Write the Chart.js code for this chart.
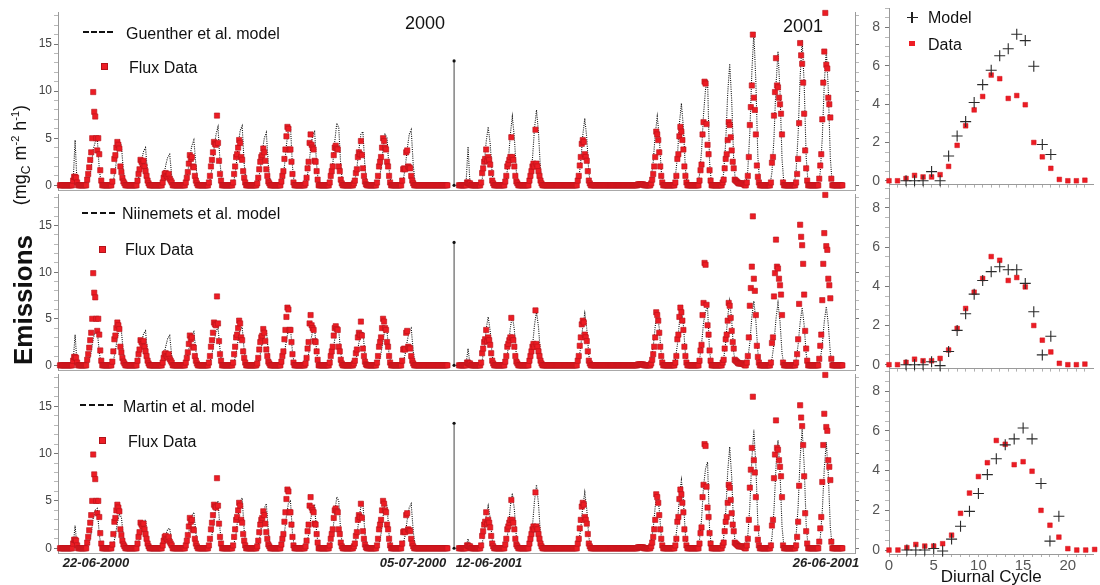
<!DOCTYPE html>
<html><head><meta charset="utf-8">
<script src="https://cdn.jsdelivr.net/npm/chart.js"></script>
<style>
html,body{margin:0;padding:0;background:#fff;}
body{position:relative;width:1100px;height:585px;overflow:hidden;font-family:"Liberation Sans",Arial,sans-serif;color:#111;}
.w{position:absolute;}
.w canvas{display:block;}
.t{position:absolute;white-space:nowrap;line-height:1;}
.dash{position:absolute;height:0;border-top:2.5px dashed #111;}
.mk{position:absolute;width:7px;height:7px;background:#ee1d25;box-shadow:inset 0 0 0 1px #b3131a;}
.rot{position:absolute;white-space:nowrap;line-height:1;transform:translate(-50%,-50%) rotate(-90deg);}
</style></head>
<body>
<div class="w" style="left:0;top:0;width:870px;height:202px"><canvas id="ts1"></canvas></div>
<div class="w" style="left:0;top:182px;width:870px;height:200px"><canvas id="ts2"></canvas></div>
<div class="w" style="left:0;top:362px;width:870px;height:213px"><canvas id="ts3"></canvas></div>
<div class="w" style="left:860px;top:-5px;width:240px;height:203px"><canvas id="di1"></canvas></div>
<div class="w" style="left:860px;top:175px;width:240px;height:207px"><canvas id="di2"></canvas></div>
<div class="w" style="left:860px;top:358px;width:240px;height:230px"><canvas id="di3"></canvas></div>

<div class="rot" style="left:23px;top:300px;font-size:26px;font-weight:bold">Emissions</div>
<div class="rot" style="left:21px;top:155px;font-size:18px">(mg<sub style="font-size:12px">C</sub> m<sup style="font-size:11px">-2</sup> h<sup style="font-size:11px">-1</sup>)</div>

<div class="t" style="left:405px;top:14px;font-size:18px">2000</div>
<div class="t" style="left:783px;top:17px;font-size:18px">2001</div>

<div class="dash" style="left:83px;top:31px;width:30px"></div>
<div class="t" style="left:126px;top:26px;font-size:16px">Guenther et al. model</div>
<div class="mk" style="left:101px;top:63px"></div>
<div class="t" style="left:129px;top:60px;font-size:16px">Flux Data</div>

<div class="dash" style="left:82px;top:212px;width:33px"></div>
<div class="t" style="left:122px;top:206px;font-size:16px">Niinemets et al. model</div>
<div class="mk" style="left:99px;top:246px"></div>
<div class="t" style="left:125px;top:242px;font-size:16px">Flux Data</div>

<div class="dash" style="left:80px;top:404px;width:33px"></div>
<div class="t" style="left:123px;top:399px;font-size:16px">Martin et al. model</div>
<div class="mk" style="left:99px;top:437px"></div>
<div class="t" style="left:128px;top:434px;font-size:16px">Flux Data</div>

<div style="position:absolute;left:906.5px;top:16.5px;width:11px;height:1.2px;background:#222"></div>
<div style="position:absolute;left:911.4px;top:11.5px;width:1.2px;height:11px;background:#222"></div>
<div class="t" style="left:928px;top:10px;font-size:16px">Model</div>
<div style="position:absolute;left:909px;top:40.5px;width:6px;height:5px;background:#ee1d25"></div>
<div class="t" style="left:928px;top:37px;font-size:16px">Data</div>

<script>
// ---------- data ----------
const DAY_HOURS = [0,1,2,3,4,5,6,7,8,9,10,11,12,13,14,15,16,17,18,19,20,21,22,23];
const MODEL_HOURS = [5,7,9,11,13,15,17,19];

// Flux data (shared by the three rows), hourly values per day
const FLUX_2000 = [
  [null,null,0,0,0,0,0,0,0,0,0,0,0,0,0,0.5,0.9,0.9,0.8,0.3,0,0,0,0],
  [0,0,0,0,0,0.6,1.2,1.9,2.7,3.5,5.0,9.9,7.8,7.3,5.0,3.7,5.0,3.3,1.6,0.5,0,0,0,0],
  [0,0,0,0,0,0,0.4,1.5,2.8,3.2,4.0,4.6,4.3,3.9,2.0,1.4,0.8,0.4,0.2,0,0,0,0,0],
  [0,0,0,0,0,0,0,0.5,1.2,1.7,2.7,2.5,2.3,2.6,2.0,1.5,1.0,0.5,0.2,0,0,0,0,0],
  [0,0,0,0,0,0,0,0,0.3,0.8,1.2,1.3,1.0,0.9,1.2,0.7,0.5,0.3,0,0,0,0,0,0],
  [0,0,0,0,0,0,0,0.3,0.8,1.4,2.3,3.2,2.8,3.0,2.0,1.9,1.0,0.5,0.2,0,0,0,0,0],
  [0,0,0,0,0,0,0.3,1.0,2.0,2.7,3.5,4.6,4.4,4.3,7.4,4.5,2.6,1.2,0.5,0,0,0,0,0],
  [0,0,0,0,0,0,0.3,1.2,2.0,3.0,3.3,4.0,4.8,4.5,3.0,2.7,1.5,0.8,0.3,0,0,0,0,0],
  [0,0,0,0,0,0,0.2,0.8,1.7,2.5,3.0,3.2,3.9,3.5,2.6,1.7,1.0,0.4,0.2,0,0,0,0,0],
  [0,0,0,0,0,0,0.4,1.0,1.5,2.8,3.8,5.2,6.2,6.0,3.8,3.8,2.5,1.2,0.3,0,0,0,0,0],
  [0,0,0,0,0,0,0.2,0.8,1.8,2.5,4.5,5.4,4.3,4.0,3.8,2.6,2.5,1.5,0.6,0,0,0,0,0],
  [0,0,0,0,0,0,0.3,1.0,1.5,2.0,3.2,4.0,4.2,3.9,3.8,2.0,1.5,0.6,0.2,0,0,0,0,0],
  [0,0,0,0,0,0,0.2,0.5,1.3,1.7,3.0,3.5,3.3,4.7,3.2,1.8,1.0,0.4,0.1,0,0,0,0,0],
  [0,0,0,0,0,0.3,1.0,2.0,2.5,3.0,4.0,5.0,4.7,4.0,3.8,2.5,2.0,1.0,0.3,0,0,0,0,0],
  [0,0,0,0,0,0,0.5,1.7,1.8,1.7,3.5,3.7,2.0,1.9,1.8,1.0,0.5,0.2,0,0,0,0,0,0],
  [0,0,0,0,0,0,0,0,0,0,0,0,0,0,0,0,0,0,0,0,0,0,0,0],
  [0,0,0,0]
];
const FLUX_2001 = [
  [null,null,null,null,null,null,null,null,0,0,0,0,0,0,0,0,0.3,0.3,0.2,0.2,0,0,0,0],
  [0,0,0,0,0,0,0.3,1.3,1.8,2.5,2.8,3.8,2.6,3.0,2.7,2.2,1.3,0.5,0.2,0,0,0,0,0],
  [0,0,0,0,0,0,0.4,1.0,2.0,2.3,2.7,3.0,5.1,3.0,2.7,2.0,1.0,0.4,0.2,0,0,0,0,0],
  [0,0,0,0,0,0,0.5,1.0,1.5,2.0,2.3,2.0,5.9,2.3,2.0,1.5,1.0,0.5,0.2,0,0,0,0,0],
  [0,0,0,0,0,0,0,0,0,0,0,0,0,0,0,0,0,0,0,0,0,0,0,0],
  [0,0,0,0,0,0,0.5,1.0,2.1,3.0,4.4,4.8,4.6,3.3,3.0,2.6,1.5,0.5,0.2,0,0,0,0,0],
  [0,0,0,0,0,0,0,0,0,0,0,0,0,0,0,0,0,0,0,0,0,0,0,0],
  [0,0,0,0,0,0,0,0,0,0,0,0,0,0,0,0,0,0,0.1,0.1,0.1,0.1,0.1,0.1],
  [0,0,0,0,0,0,0,0.2,0.6,1.2,2.0,3.0,5.7,5.4,4.8,3.5,2.0,1.0,0.3,0,0,0,0,0],
  [0,0,0,0,0,0,0,0.3,1.0,2.8,3.3,5.2,6.2,5.7,4.8,3.8,2.0,1.0,0.3,0,0,0,0,0],
  [0,0,0,0,0,0,0,0.5,1.6,2.2,5.4,6.7,11.0,10.8,6.5,4.3,3.3,1.6,0.5,0,0,0,0,0],
  [0,0,0,0,0,0,0.3,0.6,1.8,2.8,3.3,4.8,6.7,6.4,5.1,3.7,2.5,1.8,0.6,0.5,0.4,0.3,0.2,0.2],
  [0.2,0.2,0.2,0.1,0,0,0.3,1.0,3.0,6.4,8.3,10.6,16.0,9.3,8.0,5.4,2.1,0.9,0.3,0,0,0,0,0],
  [0,0,0,0,0,0,0.3,2.4,3.0,7.4,9.9,13.5,10.6,10.4,9.3,8.6,7.6,5.4,0.3,0,0,0,0,0],
  [0,0,0,0,0,0,0,0.3,1.2,2.8,6.6,15.1,13.8,12.9,10.9,7.6,3.7,1.8,0.5,0,0,0,0,0],
  [0,0,0,0,0,0,0.7,2.1,3.3,7.0,10.9,14.2,18.3,12.8,12.4,9.3,8.6,7.2,0.7,0,0,0,0,0],
  [0,0,0,0,0,0]
];

// Models, values at MODEL_HOURS for each day
const GUENTHER_2000 = [
  [0,0,0,0,0,0.3,4.8,0],[0,0.6,1.9,3.8,4.6,5.0,1.8,0],[0,0.5,1.7,3.5,4.7,4.2,1.5,0],
  [0,0.3,1.2,2.6,3.6,4.0,1.2,0],[0,0.2,0.9,2.1,3.0,3.3,1.0,0],[0,0.3,1.4,3.0,4.2,4.8,2.2,0],
  [0,0.5,1.8,3.8,5.4,6.2,2.5,0],[0,0.6,2.0,4.2,5.8,6.3,2.3,0],[0,0.5,1.7,3.6,5.0,5.6,2.2,0],
  [0,0.6,2.0,4.3,6.0,6.3,2.0,0],[0,0.5,1.8,3.8,5.3,5.7,2.2,0],[0,0.6,2.2,4.6,6.6,6.1,2.0,0],
  [0,0.5,1.8,3.8,5.4,5.7,1.9,0],[0,0.5,1.8,3.8,5.4,5.0,1.7,0],[0,0.5,1.8,3.8,5.4,5.9,2.2,0],
  [0,0,0,0,0,0,0,0]
];
const GUENTHER_2001 = [
  [0,0,0,0,0,0.2,4.1,0],[0,0.6,2.2,4.6,6.2,4.4,1.2,0],[0,0.7,2.5,5.4,7.3,5.1,1.4,0],
  [0,0.8,2.8,6.0,8.0,5.6,1.6,0],[0,0,0,0,0,0,0,0],[0,0.7,2.5,5.3,7.1,5.0,1.4,0],
  [0,0,0,0,0,0,0,0],[0,0,0,0,0,0,0,0],[0,0.7,2.5,5.4,7.3,5.2,1.5,0],
  [0,0.9,3.0,6.5,8.7,6.1,1.7,0],[0,1.1,3.6,7.5,10.2,11.2,2.5,0],[0,1.3,4.5,9.7,12.9,9.0,2.6,0],
  [0,1.6,5.6,12.0,16.2,11.0,3.0,0],[0,1.4,5.0,10.6,14.2,9.9,2.8,0],[0,1.5,5.4,11.5,15.4,10.8,3.0,0],
  [0,1.4,5.0,10.8,14.4,10.1,2.9,0]
];
const NIINEMETS_2000 = [
  [0,0,0,0,0,0.3,3.3,0],[0,0.5,1.5,2.9,3.6,3.8,1.4,0],[0,0.5,1.5,3.0,4.0,3.7,1.3,0],
  [0,0.3,1.1,2.4,3.4,3.7,1.2,0],[0,0.2,0.9,2.0,2.9,3.2,1.0,0],[0,0.3,1.1,2.3,3.2,3.6,1.6,0],
  [0,0.3,1.2,2.5,3.6,4.1,1.7,0],[0,0.4,1.3,2.7,3.8,4.1,1.6,0],[0,0.3,1.2,2.5,3.5,3.8,1.5,0],
  [0,0.4,1.3,2.7,3.8,4.0,1.4,0],[0,0.3,1.2,2.6,3.6,3.9,1.5,0],[0,0.4,1.3,2.8,4.0,3.7,1.3,0],
  [0,0.3,1.1,2.4,3.4,3.6,1.2,0],[0,0.4,1.3,2.7,3.9,3.6,1.2,0],[0,0.3,1.2,2.6,3.7,4.0,1.5,0],
  [0,0,0,0,0,0,0,0]
];
const NIINEMETS_2001 = [
  [0,0,0,0,0,0.1,1.8,0],[0,0.5,1.8,3.9,5.2,3.7,1.0,0],[0,0.5,1.9,4.0,5.4,3.8,1.1,0],
  [0,0.6,2.0,4.3,5.8,4.1,1.2,0],[0,0,0,0,0,0,0,0],[0,0.6,2.0,4.2,5.6,3.9,1.1,0],
  [0,0,0,0,0,0,0,0],[0,0,0,0,0,0,0,0],[0,0.6,2.0,4.2,5.6,4.0,1.1,0],
  [0,0.6,2.2,4.6,6.2,4.3,1.2,0],[0,0.6,2.2,4.6,5.8,6.2,1.5,0],[0,0.7,2.4,5.2,6.9,4.8,1.4,0],
  [0,0.7,2.4,5.2,6.9,4.8,1.4,0],[0,0.7,2.3,5.0,6.7,4.7,1.3,0],[0,0.6,2.2,4.6,6.2,4.3,1.2,0],
  [0,0.6,2.2,4.7,6.3,4.4,1.3,0]
];
const MARTIN_2000 = [
  [0,0,0,0,0,0.2,2.4,0],[0,0.5,1.6,3.2,4.0,4.2,1.5,0],[0,0.4,1.3,2.7,3.6,3.3,1.1,0],
  [0,0.3,1.0,2.0,2.8,3.0,0.9,0],[0,0.2,0.6,1.4,2.0,2.1,0.7,0],[0,0.3,1.1,2.4,3.4,3.8,1.6,0],
  [0,0.4,1.4,3.0,4.4,5.0,2.0,0],[0,0.5,1.6,3.5,4.9,5.3,1.9,0],[0,0.4,1.4,3.0,4.2,4.7,1.8,0],
  [0,0.5,1.6,3.4,4.8,5.0,1.6,0],[0,0.4,1.4,3.0,4.2,4.5,1.7,0],[0,0.5,1.7,3.7,5.4,5.0,1.6,0],
  [0,0.4,1.4,3.0,4.4,4.7,1.5,0],[0,0.5,1.5,3.3,4.9,4.5,1.4,0],[0,0.4,1.4,3.0,4.3,4.7,1.8,0],
  [0,0,0,0,0,0,0,0]
];
const MARTIN_2001 = [
  [0,0,0,0,0,0.1,1.0,0],[0,0.5,1.6,3.4,4.5,3.2,0.9,0],[0,0.6,2.0,4.4,5.8,4.1,1.2,0],
  [0,0.7,2.3,5.0,6.7,4.7,1.3,0],[0,0,0,0,0,0,0,0],[0,0.6,2.1,4.4,5.9,4.1,1.2,0],
  [0,0,0,0,0,0,0,0],[0,0,0,0,0,0,0,0],[0,0.6,2.1,4.4,5.9,4.1,1.2,0],
  [0,0.7,2.5,5.4,7.2,5.0,1.4,0],[0,0.9,3.0,6.5,8.4,9.1,2.0,0],[0,1.1,3.7,8.0,10.7,7.5,2.1,0],
  [0,1.3,4.4,9.4,12.5,8.8,2.5,0],[0,1.1,4.0,8.6,11.4,8.0,2.3,0],[0,1.3,4.4,9.5,12.6,8.8,2.5,0],
  [0,1.1,3.9,8.4,11.2,7.8,2.2,0]
];

// Diurnal cycle (hour 0..23)
const DIURNAL_DATA = [0,0,0.12,0.28,0.2,0.2,0.32,0.75,1.85,2.87,3.7,4.4,5.52,5.33,4.3,4.45,3.97,2.0,1.25,0.65,0.07,0,0,0.03];
const DIURNAL_GUENTHER = [null,null,0,0,0,0.48,0,1.29,2.34,3.09,4.09,5.02,5.77,6.53,6.89,7.65,7.32,5.98,1.89,1.37,null,null,null,null];
const DIURNAL_NIINEMETS = [null,null,0,0,0,0.15,-0.05,0.67,1.75,2.6,3.6,4.3,4.75,5.0,4.85,4.85,4.15,2.7,0.5,1.45,null,null,null,null];
const DIURNAL_MARTIN = [null,null,0,0,0,0.08,-0.05,0.55,1.2,1.95,2.85,3.8,4.6,5.3,5.6,6.15,5.6,3.35,0.45,1.7,null,null,null,null];

// ticks and labels
const TS_Y_TICKS = [0,1,2,3,4,5,6,7,8,9,10,11,12,13,14,15,16,17,18];
const TS_Y_LABELS = [0,5,10,15];
const DI_Y_TICKS = [0,0.5,1,1.5,2,2.5,3,3.5,4,4.5,5,5.5,6,6.5,7,7.5,8,8.5,9];
const DI_Y_LABELS = [0,2,4,6,8];
const DI_X_TICKS = [0,1,2,3,4,5,6,7,8,9,10,11,12,13,14,15,16,17,18,19,20,21,22,23];
const DI_X_LABELS = [0,5,10,15,20];
const DATE_LABELS = ['22-06-2000','05-07-2000','12-06-2001','26-06-2001'];
const DATE_TICKS = [1.57,14.7,17.85,31.8];

// ---------- layout constants ----------
const START_2001 = 16.27;   // axis position (days) of 2001 block
const SEP_X = 16.4, SEP_TOP = 13.2;
const TS_XMAX = 33, TS_YMIN = -0.5, TS_YMAX = 18.4;
const DI_YMIN = -0.2, DI_YMAX = 9;

Chart.defaults.font.family = '"Liberation Sans", Arial, sans-serif';

function fluxPts(days, off) {
  const p = [];
  days.forEach((row, d) => row.forEach((v, h) => { if (v !== null) p.push({x: off + d + DAY_HOURS[h] / 24, y: v}); }));
  return p;
}
function modelPts(days, off) {
  const p = [];
  days.forEach((row, d) => row.forEach((v, i) => p.push({x: off + d + MODEL_HOURS[i] / 24, y: v})));
  return p;
}

const baseOpts = {
  responsive: true, maintainAspectRatio: false, animation: false, events: [],
  plugins: { legend: { display: false }, tooltip: { enabled: false } }
};

function tsChart(id, label, m2000, m2001, withDates) {
  const flux = fluxPts(FLUX_2000, 0).concat(fluxPts(FLUX_2001, START_2001));
  const model = modelPts(m2000, 0).concat([{x: SEP_X, y: null}], modelPts(m2001, START_2001));
  const yTickColor = c => (c.tick && TS_Y_LABELS.includes(c.tick.value)) ? '#777' : '#b8b8b8';
  new Chart(document.getElementById(id), {
    type: 'scatter',
    data: { datasets: [
      { label: 'Flux Data', data: flux, pointStyle: 'rect', pointRadius: 3.7, backgroundColor: '#ec1c24',
        borderColor: '#b8141b', borderWidth: 0.6, order: 1, clip: false },
      { label: label, data: model, showLine: true, spanGaps: false, borderColor: '#111', borderWidth: 1.1,
        borderDash: [1, 1.2], pointRadius: 0, order: 2, clip: false },
      { label: 'separator', data: [{x: SEP_X, y: 0}, {x: SEP_X, y: SEP_TOP}], showLine: true,
        borderColor: '#444', borderWidth: 1, pointRadius: 1.6, pointBackgroundColor: '#111',
        pointBorderWidth: 0, order: 3, clip: false }
    ]},
    options: Object.assign({}, baseOpts, {
      layout: { padding: { left: 14, right: 5, top: 12, bottom: withDates ? 0 : 12 } },
      scales: {
        x: { type: 'linear', min: 0, max: TS_XMAX,
          afterFit: s => { s.height = withDates ? 22 : 0; },
          afterBuildTicks: s => { s.ticks = DATE_TICKS.map(v => ({value: v})); },
          ticks: { display: withDates, autoSkip: false, maxRotation: 0, padding: 3, color: '#222',
            font: { size: 13, style: 'italic', weight: 'bold' }, callback: (v, i) => DATE_LABELS[i] },
          grid: { display: false, drawTicks: false },
          border: { display: true, color: '#a8a8a8' } },
        y: { type: 'linear', position: 'left', min: TS_YMIN, max: TS_YMAX,
          afterFit: s => { s.width = 44; },
          afterBuildTicks: s => { s.ticks = TS_Y_TICKS.map(v => ({value: v})); },
          ticks: { autoSkip: false, padding: 2, color: '#444', font: { size: 12 },
            callback: v => TS_Y_LABELS.includes(v) ? String(v) : '' },
          grid: { drawOnChartArea: false, drawTicks: true, tickLength: 4, tickColor: yTickColor },
          border: { display: true, color: '#9a9a9a' } },
        y2: { type: 'linear', position: 'right', min: TS_YMIN, max: TS_YMAX,
          afterFit: s => { s.width = 10; },
          afterBuildTicks: s => { s.ticks = TS_Y_TICKS.map(v => ({value: v})); },
          ticks: { display: false, autoSkip: false },
          grid: { drawOnChartArea: false, drawTicks: true, tickLength: 4, tickColor: yTickColor },
          border: { display: true, color: '#9a9a9a' } }
      }
    })
  });
}

function diChart(id, model, xmax, withLabels) {
  new Chart(document.getElementById(id), {
    type: 'scatter',
    data: { datasets: [
      { label: 'Model', data: DAY_HOURS.map((h, i) => ({x: h, y: model[i]})), pointStyle: 'cross',
        pointRadius: 5.5, borderColor: '#2a2a2a', borderWidth: 1.1, order: 1, clip: false },
      { label: 'Data', data: DAY_HOURS.map((h, i) => ({x: h, y: DIURNAL_DATA[i]})), pointStyle: 'rect',
        pointRadius: 3.3, backgroundColor: '#ec1c24', borderColor: '#d0141c', borderWidth: 0.5, order: 2, clip: false }
    ]},
    options: Object.assign({}, baseOpts, {
      layout: { padding: { left: 0, right: 0, top: 12, bottom: withLabels ? 0 : 12 } },
      scales: {
        x: { type: 'linear', min: 0, max: xmax,
          afterFit: s => { s.height = withLabels ? 34 : 0; },
          afterBuildTicks: s => { s.ticks = DI_X_TICKS.filter(v => v <= xmax).map(v => ({value: v})); },
          ticks: { display: withLabels, autoSkip: false, maxRotation: 0, padding: 0, color: '#555',
            font: { size: 15 }, callback: v => DI_X_LABELS.includes(v) ? String(v) : '' },
          grid: { drawOnChartArea: false, drawTicks: true, tickLength: 3, tickColor: '#b0b0b0' },
          border: { display: true, color: '#9a9a9a' },
          title: { display: withLabels, text: 'Diurnal Cycle', color: '#111', font: { size: 17 },
            padding: { top: 0, bottom: 0 } } },
        y: { type: 'linear', min: DI_YMIN, max: DI_YMAX,
          afterFit: s => { s.width = 29; },
          afterBuildTicks: s => { s.ticks = DI_Y_TICKS.map(v => ({value: v})); },
          ticks: { autoSkip: false, padding: 5, color: '#555', font: { size: 14 },
            callback: v => DI_Y_LABELS.includes(v) ? String(v) : '' },
          grid: { drawOnChartArea: false, drawTicks: true, tickLength: 4,
            tickColor: c => (c.tick && DI_Y_LABELS.includes(c.tick.value)) ? '#777' : '#b8b8b8' },
          border: { display: true, color: '#9a9a9a' } }
      }
    })
  });
}

tsChart('ts1', 'Guenther et al. model', GUENTHER_2000, GUENTHER_2001, false);
tsChart('ts2', 'Niinemets et al. model', NIINEMETS_2000, NIINEMETS_2001, false);
tsChart('ts3', 'Martin et al. model', MARTIN_2000, MARTIN_2001, true);
diChart('di1', DIURNAL_GUENTHER, 24, false);
diChart('di2', DIURNAL_NIINEMETS, 24, false);
diChart('di3', DIURNAL_MARTIN, 22.86, true);
</script>
</body></html>
